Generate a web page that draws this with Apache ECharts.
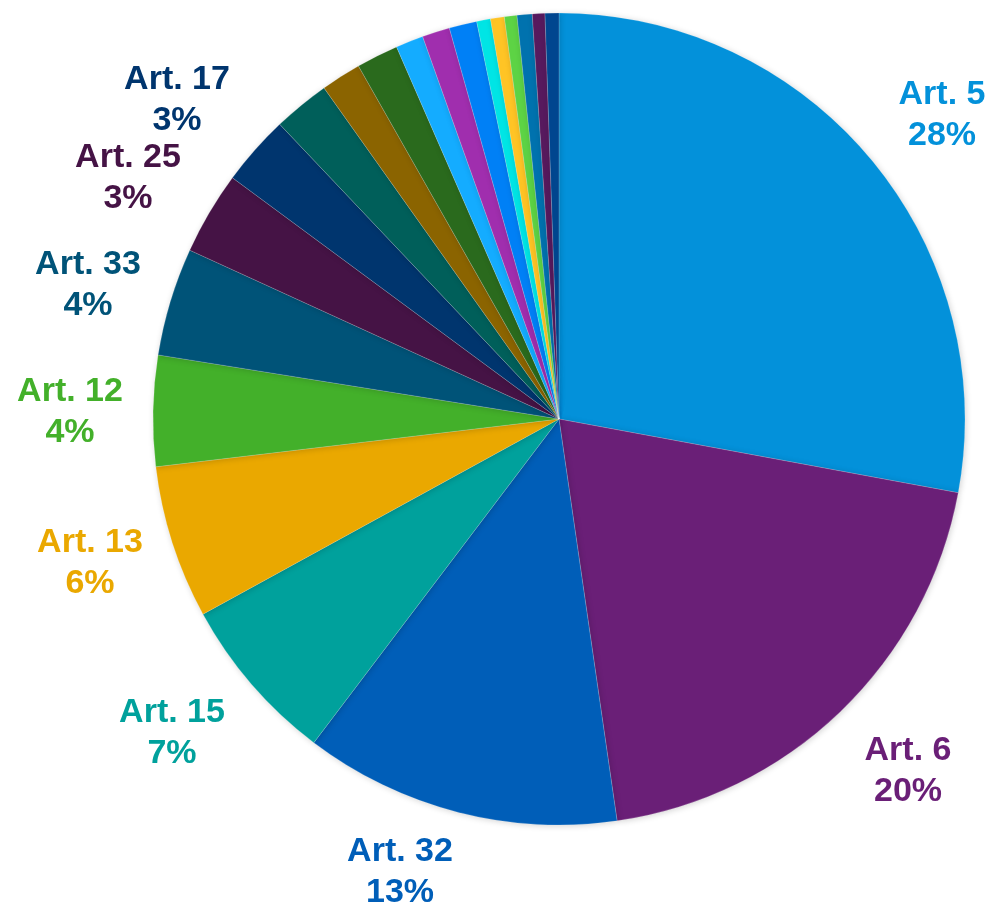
<!DOCTYPE html>
<html>
<head>
<meta charset="utf-8">
<script src="https://cdn.jsdelivr.net/npm/echarts@6/dist/echarts.min.js"></script>
<style>
  html, body { margin: 0; padding: 0; background: #fff; }
  #main { width: 994px; height: 910px; }
</style>
</head>
<body>
<div id="main"></div>
<script>
// slices, clockwise from 12 o'clock
var names = [
  "Art. 5", "Art. 6", "Art. 32", "Art. 15", "Art. 13", "Art. 12", "Art. 33", "Art. 25", "Art. 17",
  "Other 1", "Other 2", "Other 3", "Other 4", "Other 5", "Other 6",
  "Other 7", "Other 8", "Other 9", "Other 10", "Other 11", "Other 12"
];
var values = [
  27.9, 19.8, 12.6, 6.7, 6.1, 4.4, 4.3, 3.3, 2.8,
  2.25, 1.6, 1.67, 1.1, 1.1, 1.1,
  0.55, 0.55, 0.5, 0.6, 0.5, 0.55
];
var colors = [
  "#0391da", "#6a1f77", "#005eb8", "#00a19c", "#eaa800", "#43b02a", "#005378", "#451345", "#00356e",
  "#005f5a", "#8b6400", "#2a6a1d", "#14acff", "#a02eae", "#0080f6",
  "#00e5e5", "#ffc425", "#5dd345", "#0072ae", "#571a5e", "#00468f"
];
// only the first 9 slices carry a label
var labelled = 9;

// where the labels sit (centre of the two-line block)
var labelPos = [
  [942, 115], [908, 771], [400, 872], [172, 733], [90, 563],
  [70, 412], [88, 285], [128, 178], [177, 100]
];

var chart = echarts.init(document.getElementById("main"));

var data = names.map(function (n, i) {
  return {
    name: n,
    value: values[i],
    itemStyle: { color: colors[i] },
    label: { show: i < labelled, color: colors[i] }
  };
});

chart.setOption({
  animation: false,
  series: [
    {
      type: "pie",
      center: [559, 419],
      radius: [0, 406],
      startAngle: 90,
      clockwise: true,
      avoidLabelOverlap: false,
      itemStyle: {
        borderColor: "rgba(255,255,255,0.35)",
        borderWidth: 0.5,
        shadowBlur: 6,
        shadowOffsetX: 1,
        shadowOffsetY: 1,
        shadowColor: "rgba(0,0,0,0.18)"
      },
      label: {
        position: "outside",
        fontFamily: "Liberation Sans, Arial, sans-serif",
        fontWeight: "bold",
        fontSize: 34,
        lineHeight: 41,
        align: "center",
        formatter: function (p) {
          return p.name + "\n" + Math.round(p.percent) + "%";
        }
      },
      labelLine: { show: false },
      labelLayout: function (p) {
        var pos = labelPos[p.dataIndex];
        if (!pos) return {};
        return { x: pos[0], y: pos[1], align: "center", verticalAlign: "middle" };
      },
      data: data
    }
  ]
});
</script>
</body>
</html>
